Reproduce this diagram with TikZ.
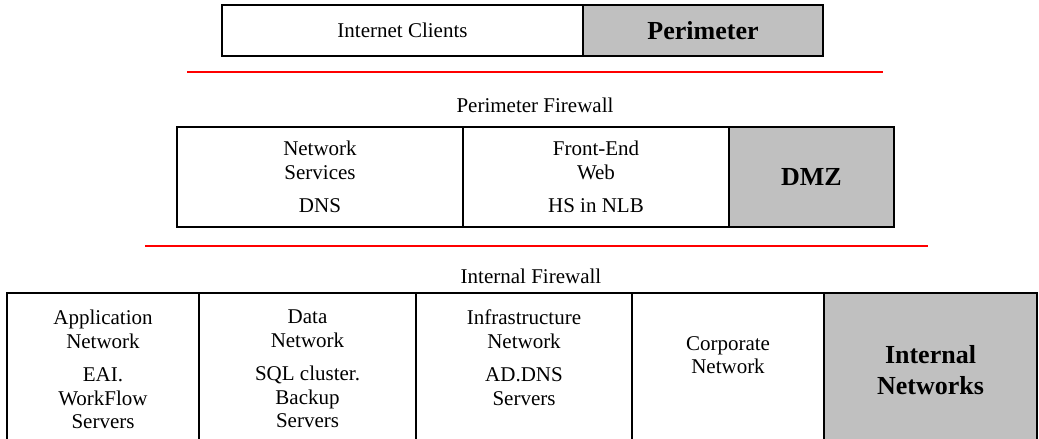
\documentclass[tikz,border=0pt]{standalone}
\usepackage{fontspec}
\setmainfont{Liberation Serif}
\usepackage{tikz}
\usetikzlibrary{positioning}
\definecolor{zonegray}{RGB}{192,192,192}

\begin{document}
\begin{tikzpicture}[x=1pt, y=1pt,
        box/.style={draw, line width=1.6pt, outer sep=0pt, inner sep=2pt, align=center,
            font=\fontsize{21}{23.5}\selectfont},
        zone/.style={box, fill=zonegray, font=\bfseries\fontsize{26}{31}\selectfont},
        txt/.style={inner sep=0pt, align=center, font=\fontsize{21}{23.5}\selectfont},
        fw/.style={red, line width=1.8pt}]
        \useasboundingbox (0,0) rectangle (1039,439);

        % perimeter
        \node[box, minimum width=361pt, minimum height=51pt] (ic) at (402.5,408.5) {Internet Clients};
        \node[zone, minimum width=240pt, minimum height=51pt, right=0pt of ic] (per) {Perimeter};

        \coordinate (pf1) at (187,367);
        \coordinate (pf2) at (883,367);
        \draw[fw] (pf1) -- (pf2);
        \node[txt] (pfw) at (535,334) {Perimeter Firewall};

        % dmz
        \node[box, minimum width=286pt, minimum height=100pt] (ns) at (320,262) {Network\\Services\\[9.5pt]DNS};
        \node[box, minimum width=266pt, minimum height=100pt, right=0pt of ns] (few) {Front-End\\Web\\[9.5pt]HS in NLB};
        \node[zone, minimum width=165pt, minimum height=100pt, right=0pt of few] (dmz) {DMZ};

        \coordinate (if1) at (145,193);
        \coordinate (if2) at (928,193);
        \draw[fw] (if1) -- (if2);
        \node[txt] (ifw) at (531,163) {Internal Firewall};

        % internal networks
        \node[box, minimum width=192pt, minimum height=154pt] (app) at (103,69) {};
        \node[box, minimum width=217pt, minimum height=154pt, right=0pt of app] (data) {};
        \node[box, minimum width=216pt, minimum height=154pt, right=0pt of data] (infra) {};
        \node[box, minimum width=192pt, minimum height=154pt, right=0pt of infra] (corp) {};
        \node[zone, minimum width=213pt, minimum height=154pt, right=0pt of corp] (intnet) {Internal\\Networks};

        \node[txt, below=17pt of app.north] (apptxt) {Application\\Network\\[10pt]EAI.\\WorkFlow\\Servers};
        \node[txt, below=17pt of data.north] (datatxt) {Data\\Network\\[10pt]SQL cluster.\\Backup\\Servers};
        \node[txt, below=17pt of infra.north] (infratxt) {Infrastructure\\Network\\[10pt]AD.DNS\\Servers};
        \node[txt, below=43pt of corp.north] (corptxt) {Corporate\\Network};
\end{tikzpicture}
\end{document}
